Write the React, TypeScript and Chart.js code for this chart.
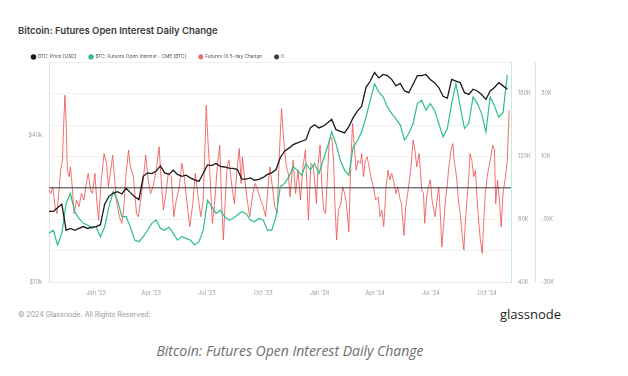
import React, { useEffect, useRef } from "react";
import { Chart, registerables } from "chart.js";

Chart.register(...registerables);

// Day 0 = 2022-10-16
const WEEK_STEP_DAYS = 7;
const X_MAX_DAY = 755;
const tickDays = [77, 167, 258, 350, 442, 533, 624, 716];
const tickLabels = ["Jan '23", "Apr '23", "Jul '23", "Oct '23", "Jan '24", "Apr '24", "Jul '24", "Oct '24"];

const seriesNames = [
  "BTC: Price [USD]",
  "BTC: Futures Open Interest - CME [BTC]",
  "Futures OI 5-day Change",
  "0",
];

// BTC price, USD thousands, one value per week
const priceK = [
  19.5, 19.5, 20.2, 20.9, 16.3, 16.6, 16.3, 16.6, 16.9, 16.6, 16.8, 16.9, 17.2, 20.9, 22.5, 23.2,
  23.5, 23.0, 24.3, 23.3, 22.4, 21.8, 27.2, 28.1, 27.9, 28.5, 30.0, 28.1, 27.7, 28.8, 27.7, 27.2,
  27.5, 26.8, 26.3, 25.9, 28.0, 30.3, 30.1, 30.7, 29.9, 29.7, 29.4, 29.3, 29.0, 26.5, 26.5, 26.8,
  26.2, 26.4, 26.9, 27.7, 28.1, 29.0, 32.5, 34.5, 35.5, 36.7, 37.3, 37.9, 38.5, 43.0, 44.3, 43.0,
  43.7, 45.0, 46.6, 42.3, 41.6, 41.0, 43.5, 47.4, 50.4, 52.8, 63.0, 67.0, 72.6, 69.0, 71.3, 70.5,
  68.1, 64.0, 65.5, 61.0, 60.0, 65.0, 70.5, 70.5, 71.3, 68.0, 66.0, 63.0, 58.0, 57.0, 68.0, 67.0,
  66.0, 60.0, 59.0, 62.0, 61.0, 59.0, 56.3, 61.0, 63.0, 66.0, 64.0, 62.0,
];

// CME futures open interest, BTC thousands, one value per week
const openInterestK = [
  71, 73, 63.6, 71, 90, 96.4, 84.8, 80.5, 77.4, 76.3, 74.2, 75.2, 68.9, 75, 88, 97.5,
  92, 81.6, 81.6, 75, 66.7, 65.7, 68.9, 73, 77.4, 79.5, 74.2, 73, 75, 71, 66.7, 68.9,
  67.8, 66.7, 63.6, 65.7, 73, 92, 88, 83.7, 85.8, 81.6, 79.5, 80.5, 82.7, 84.8, 83.7, 79.5,
  78.4, 80.5, 79.5, 73, 73, 81.6, 100.7, 102.8, 107, 113.4, 111.3, 108, 115.5, 111.3, 115.5, 109,
  117.6, 126, 135.7, 128, 117.6, 111.3, 108, 126, 130, 135.7, 145, 155.8, 166.4, 161, 158, 151.6,
  147.3, 144, 140, 130.4, 134.6, 141, 153.7, 155.8, 149.5, 153.7, 149.5, 141, 132.5, 137.8, 153.7, 166.4,
  151.6, 137.8, 141, 158, 153.7, 147.3, 135.7, 158, 152, 145, 148, 172,
];

// Futures OI 5-day change (BTC thousands)
const changeDays = [
  0, 3, 6, 10, 13, 15, 19, 22, 24, 26, 28, 30, 33, 35, 38, 41, 45, 49, 53, 57,
  61, 64, 68, 71, 75, 78, 81, 85, 90, 94, 97, 101, 104, 107, 110, 115, 119, 122, 126, 130,
  133, 138, 143, 146, 150, 154, 158, 162, 166, 170, 176, 180, 183, 187, 191, 195, 200, 204, 208, 213,
  217, 221, 225, 230, 235, 239, 243, 248, 252, 255, 257, 260, 263, 267, 271, 275, 279, 282, 285, 288,
  291, 294, 299, 303, 307, 311, 314, 316, 320, 324, 328, 333, 337, 341, 346, 350, 354, 358, 361, 365,
  369, 373, 376, 380, 384, 388, 391, 394, 399, 403, 407, 411, 415, 419, 424, 428, 432, 435, 437, 440,
  443, 446, 449, 452, 455, 458, 462, 465, 467, 470, 473, 477, 480, 483, 486, 490, 493, 496, 499, 502,
  505, 509, 511, 514, 517, 520, 522, 526, 530, 534, 538, 541, 544, 547, 551, 554, 557, 560, 564, 567,
  570, 574, 576, 580, 583, 587, 591, 595, 598, 601, 605, 609, 612, 614, 617, 620, 623, 626, 629, 631,
  634, 637, 640, 642, 645, 648, 651, 654, 657, 660, 662, 666, 669, 672, 675, 678, 680, 683, 686, 688,
  691, 694, 697, 699, 702, 705, 708, 710, 713, 716, 719, 722, 725, 728, 730, 733, 736, 739, 742, 746,
  749, 752,
];
const changeK = [
  -0.7, -1.8, 0.3, -6.0, -8.2, -3.9, 5.6, 8.8, 20.0, 29.5, 21.5, 5.6, 3.5, 6.7, 0.3, -8.2, -3.9, -6.0, -1.8, -3.9,
  1.4, 4.6, -0.7, -1.8, 4.6, -3.9, -10.3, 1.4, 10.9, 7.8, 0.3, 5.6, 10.4, 3.5, -3.9, -9.2, -11.3, -7.1, 4.6, 12.0,
  6.7, 3.5, -8.2, -9.2, -3.9, 2.5, 10.4, 2.5, -1.8, 0.3, 6.7, 13.1, 3.5, -7.1, -1.8, 4.6, 3.5, -9.2, -3.9, 0.3,
  7.8, 3.5, -3.9, -12.4, -5.0, 4.6, -1.8, -9.2, -3.9, 14.1, 26.3, 14.1, 4.6, -11.3, -3.9, 6.7, 13.6, -3.9, -16.6, -3.9,
  6.7, 8.8, 0.3, -5.0, 5.6, 12.5, 1.4, 9.9, 2.5, -3.9, -9.2, -1.8, 1.4, -0.7, -3.9, -6.0, -9.2, 0.3, 6.7, 0.3,
  -6.0, -8.2, 8.8, 25.3, 14.1, 6.7, 4.6, -2.9, 8.8, -1.8, 5.6, -3.9, 6.7, 12.0, -10.3, 7.8, 6.7, 0.3, -5.0, 7.8,
  13.6, 0.3, -7.1, -8.2, 3.5, 15.2, 16.2, 8.8, -3.9, -16.6, -7.1, -5.0, 0.3, -1.8, -5.0, -14.0, 6.7, 20.5, 13.1, 5.6,
  8.8, 7.8, 10.9, 3.5, 8.8, 9.9, 7.8, 3.5, 0.3, -3.9, -2.9, -9.2, -7.1, -12.4, 0.3, 5.6, 2.5, 4.6, 1.4, -1.8,
  0.3, -3.9, -5.0, -15.1, -6.0, -0.7, 5.6, 15.2, 12.0, 6.7, 10.9, -0.7, -1.8, -11.3, -2.9, 0.3, 2.5, -3.9, -7.1, -9.2,
  -3.9, 0.3, -10.3, -18.8, -11.3, -3.9, 1.4, 7.8, 12.0, 14.1, 8.8, 3.5, -3.9, -8.2, -14.5, -19.8, -12.4, -3.9, 3.5, 10.9,
  8.8, 3.5, 5.6, -1.8, -10.3, -16.6, -20.9, -12.4, -1.8, 3.5, 6.7, 9.9, 13.6, 12.0, -5.0, 2.5, -3.9, -12.4, -1.8, 3.5,
  8.8, 24.7,
];

const zeroLineDays = [0, X_MAX_DAY];
const zeroLineValues = [0, 0];

const COLORS = {
  price: "#1a1a1a",
  oi: "#2ebf8a",
  change: "rgba(238, 82, 82, 0.82)",
  zero: "#3a3a3a",
};

const legendHeightPatch = {
  id: "legendHeightPatch",
  afterInit(chart: any) {
    const lg = chart.legend;
    if (lg && !lg.__patched) {
      const orig = lg.fit.bind(lg);
      lg.fit = () => {
        orig();
        lg.height = Math.max(0, lg.height - 7);
      };
      lg.__patched = true;
    }
  },
};

const tickFont = { family: "Inter", size: 5.5 };
const tickColor = "#9c9c9c";

export default function App() {
  const ref = useRef<HTMLCanvasElement>(null);

  useEffect(() => {
    const canvas = ref.current;
    if (!canvas) return;
    const priceData = priceK.map((v, i) => ({ x: i * WEEK_STEP_DAYS, y: v * 1000 }));
    const oiData = openInterestK.map((v, i) => ({ x: i * WEEK_STEP_DAYS, y: v * 1000 }));
    const changeData = changeK.map((v, i) => ({ x: changeDays[i], y: v * 1000 }));
    const zeroData = zeroLineValues.map((v, i) => ({ x: zeroLineDays[i], y: v }));

    const chart = new Chart(canvas, {
      type: "line",
      data: {
        datasets: [
          {
            label: seriesNames[0],
            data: priceData,
            yAxisID: "y",
            borderColor: COLORS.price,
            backgroundColor: COLORS.price,
            borderWidth: 1.3,
            pointRadius: 0,
            pointStyle: "circle",
            order: 0,
          },
          {
            label: seriesNames[1],
            data: oiData,
            yAxisID: "y1",
            borderColor: COLORS.oi,
            backgroundColor: COLORS.oi,
            borderWidth: 1.2,
            pointRadius: 0,
            pointStyle: "circle",
            order: 1,
          },
          {
            label: seriesNames[2],
            data: changeData,
            yAxisID: "y2",
            borderColor: COLORS.change,
            backgroundColor: COLORS.change,
            borderWidth: 1,
            pointRadius: 0,
            pointStyle: "circle",
            order: 3,
          },
          {
            label: seriesNames[3],
            data: zeroData,
            yAxisID: "y2",
            borderColor: COLORS.zero,
            backgroundColor: COLORS.zero,
            borderWidth: 1,
            pointRadius: 0,
            pointStyle: "circle",
            order: 2,
          },
        ],
      },
      options: {
        animation: false,
        responsive: false,
        maintainAspectRatio: false,
        layout: { padding: { left: 9, right: 0, top: 0, bottom: 0 } },
        elements: { line: { tension: 0 } },
        plugins: {
          tooltip: { enabled: false },
          legend: {
            display: true,
            position: "top",
            align: "start",
            labels: {
              usePointStyle: true,
              pointStyle: "circle",
              boxWidth: 4,
              boxHeight: 3,
              padding: 12.5,
              color: "#555",
              font: { family: "Inter", size: 4.8 },
              sort: (a: any, b: any) => a.datasetIndex - b.datasetIndex,
            },
          },
        },
        scales: {
          x: {
            type: "linear",
            min: 0,
            max: X_MAX_DAY,
            afterBuildTicks: (s: any) => {
              s.ticks = tickDays.map((v) => ({ value: v }));
            },
            afterFit: (s: any) => {
              s.height = 20;
            },
            ticks: {
              autoSkip: false,
              maxRotation: 0,
              padding: 8,
              font: tickFont,
              color: tickColor,
              callback: (_v: any, i: number) => tickLabels[i] ?? "",
            },
            grid: { display: false, drawTicks: false },
            border: { display: true, color: "#e8e8e8" },
          },
          y: {
            type: "logarithmic",
            position: "left",
            min: 10000,
            max: 80000,
            afterBuildTicks: (s: any) => {
              s.ticks = [{ value: 10000 }, { value: 40000 }];
            },
            afterFit: (s: any) => {
              s.width = 30;
            },
            ticks: {
              autoSkip: false,
              padding: 7,
              font: tickFont,
              color: tickColor,
              callback: (v: any) => `$${Number(v) / 1000}k`,
            },
            grid: { display: false, drawTicks: false },
            border: { display: true, color: "#e4e4e4" },
          },
          y1: {
            type: "linear",
            position: "right",
            weight: 0,
            min: 40000,
            max: 180000,
            afterFit: (s: any) => {
              s.width = 24;
            },
            ticks: {
              stepSize: 20000,
              autoSkip: false,
              padding: 7,
              font: tickFont,
              color: tickColor,
              callback: (v: any) => (Number(v) % 40000 === 0 ? `${Number(v) / 1000}K` : ""),
            },
            grid: { color: "#f1f1f1", drawTicks: false },
            border: { display: true, color: "rgba(46, 191, 138, 0.3)" },
          },
          y2: {
            type: "linear",
            position: "right",
            weight: 1,
            min: -30000,
            max: 40000,
            afterFit: (s: any) => {
              s.width = 40;
            },
            ticks: {
              stepSize: 10000,
              autoSkip: false,
              padding: 6,
              font: tickFont,
              color: tickColor,
              callback: (v: any) =>
                (Number(v) + 30000) % 20000 === 0 ? `${Number(v) / 1000}K` : "",
            },
            grid: { display: false, drawTicks: false },
            border: { display: true, color: "#e2e2e2" },
          },
        },
      },
      plugins: [legendHeightPatch],
    } as any);

    return () => chart.destroy();
  }, []);

  return (
    <div
      style={{
        position: "absolute",
        left: 0,
        top: 0,
        width: 628,
        height: 376,
        background: "#fff",
        overflow: "hidden",
        fontFamily: "Inter, sans-serif",
      }}
    >
      <div
        style={{
          position: "absolute",
          left: 18,
          top: 25,
          lineHeight: "12px",
          fontSize: 9.5,
          fontWeight: 600,
          color: "#3a3a3a",
          whiteSpace: "nowrap",
        }}
      >
        Bitcoin: Futures Open Interest Daily Change
      </div>
      <canvas
        ref={ref}
        width={565}
        height={260}
        style={{ position: "absolute", left: 10, top: 42, width: 565, height: 260 }}
      />
      <div
        style={{
          position: "absolute",
          left: 18,
          top: 311,
          lineHeight: "8px",
          fontSize: 7,
          color: "#9a9a9a",
          whiteSpace: "nowrap",
        }}
      >
        © 2024 Glassnode. All Rights Reserved.
      </div>
      <div
        style={{
          position: "absolute",
          left: 500,
          top: 305,
          lineHeight: "18px",
          fontSize: 13,
          fontWeight: 500,
          color: "#222",
          fontFamily: "'Open Sans', sans-serif",
          whiteSpace: "nowrap",
        }}
      >
        glassnode
      </div>
      <div
        style={{
          position: "absolute",
          left: 0,
          width: 580,
          top: 341,
          lineHeight: "20px",
          textAlign: "center",
          fontSize: 14,
          fontStyle: "italic",
          color: "#6e6e6e",
          fontFamily: "'Open Sans', sans-serif",
          whiteSpace: "nowrap",
        }}
      >
        Bitcoin: Futures Open Interest Daily Change
      </div>
    </div>
  );
}
